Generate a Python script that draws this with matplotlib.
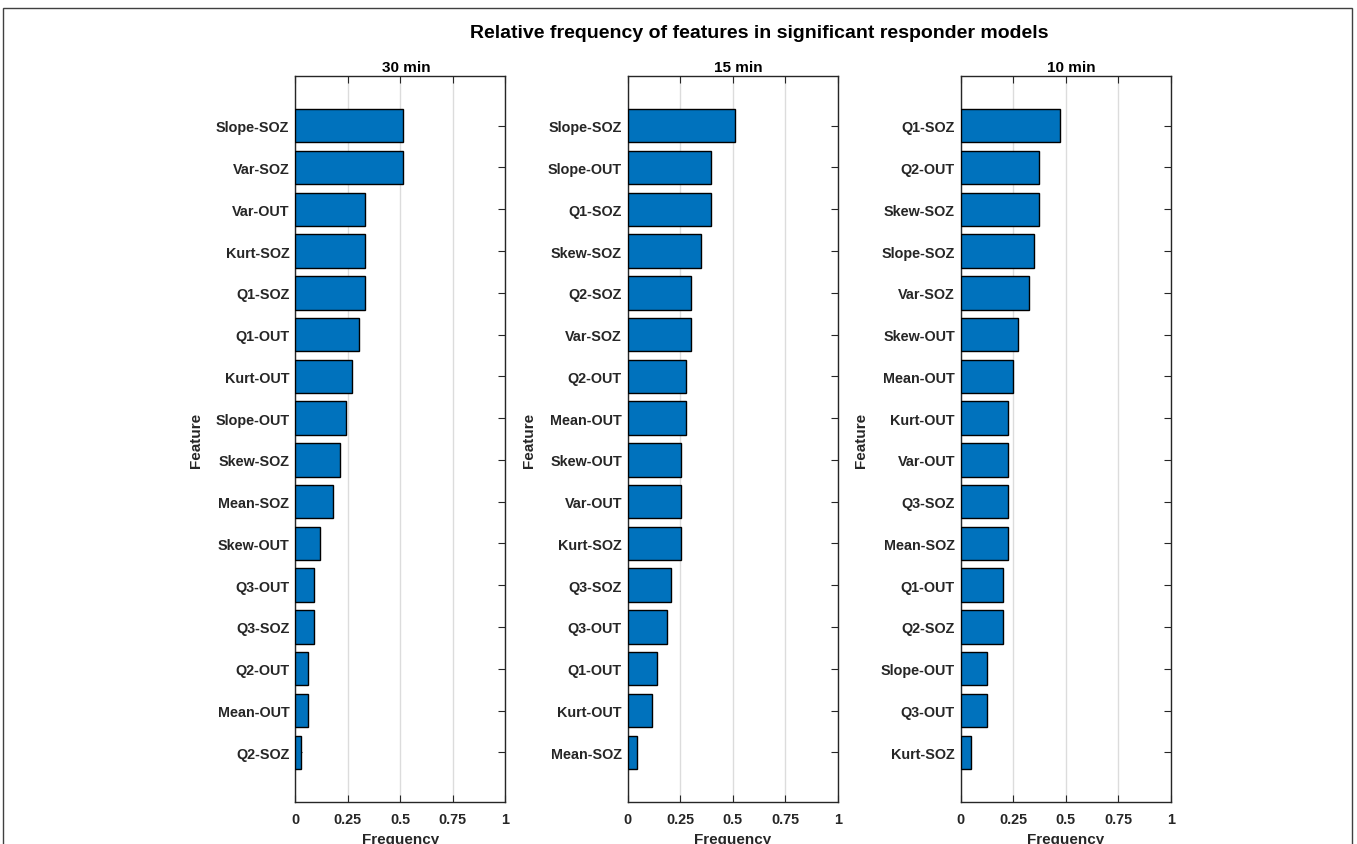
import matplotlib
matplotlib.use("Agg")
import matplotlib.pyplot as plt
from matplotlib.patches import Rectangle

plt.rcParams['font.family'] = ['Liberation Sans', 'DejaVu Sans']
plt.rcParams['font.weight'] = 'bold'

# Feature rankings and relative frequencies for each window length
titles = ["30 min", "15 min", "10 min"]

features_30 = ["Slope-SOZ", "Var-SOZ", "Var-OUT", "Kurt-SOZ", "Q1-SOZ", "Q1-OUT",
               "Kurt-OUT", "Slope-OUT", "Skew-SOZ", "Mean-SOZ", "Skew-OUT", "Q3-OUT",
               "Q3-SOZ", "Q2-OUT", "Mean-OUT", "Q2-SOZ"]
freq_30 = [0.515, 0.515, 0.333, 0.333, 0.333, 0.303, 0.273, 0.242,
           0.212, 0.182, 0.121, 0.091, 0.091, 0.061, 0.061, 0.030]

features_15 = ["Slope-SOZ", "Slope-OUT", "Q1-SOZ", "Skew-SOZ", "Q2-SOZ", "Var-SOZ",
               "Q2-OUT", "Mean-OUT", "Skew-OUT", "Var-OUT", "Kurt-SOZ", "Q3-SOZ",
               "Q3-OUT", "Q1-OUT", "Kurt-OUT", "Mean-SOZ"]
freq_15 = [0.512, 0.395, 0.395, 0.349, 0.302, 0.302, 0.279, 0.279,
           0.256, 0.256, 0.256, 0.209, 0.186, 0.140, 0.116, 0.047]

features_10 = ["Q1-SOZ", "Q2-OUT", "Skew-SOZ", "Slope-SOZ", "Var-SOZ", "Skew-OUT",
               "Mean-OUT", "Kurt-OUT", "Var-OUT", "Q3-SOZ", "Mean-SOZ", "Q1-OUT",
               "Q2-SOZ", "Slope-OUT", "Q3-OUT", "Kurt-SOZ"]
freq_10 = [0.475, 0.375, 0.375, 0.350, 0.325, 0.275, 0.250, 0.225,
           0.225, 0.225, 0.225, 0.200, 0.200, 0.125, 0.125, 0.050]

x_ticks = [0, 0.25, 0.5, 0.75, 1]
x_tick_labels = ["0", "0.25", "0.5", "0.75", "1"]

panels = [(features_30, freq_30), (features_15, freq_15), (features_10, freq_10)]

W, H = 1357, 845
fig = plt.figure(figsize=(W / 100, H / 100), dpi=100)
fig.patch.set_facecolor("white")

# thin frame around the whole figure
fig.add_artist(Rectangle((3 / W, -0.05), 1349 / W, 1.05 - 9 / H,
                         transform=fig.transFigure, fill=False,
                         edgecolor="#404040", linewidth=1.0))

axis_col = "#262626"
lefts = [295, 627.5, 960.5]
ax_w = 210.5
ax_top, ax_bot = 77, 803

for i, ((names, vals), title) in enumerate(zip(panels, titles)):
    ax = fig.add_axes([lefts[i] / W, 1 - ax_bot / H, ax_w / W, (ax_bot - ax_top) / H])
    pos = list(range(len(names)))
    ax.barh(pos, vals, height=0.8, color="#0072BD", edgecolor="black",
            linewidth=1.0, zorder=3)
    ax.set_xlim(0, 1)
    ax.set_ylim(len(names) - 1 + 1.19, -1.19)
    ax.set_yticks(pos)
    ax.set_yticklabels(names, fontsize=10.4, fontweight="bold", color=axis_col)
    ax.set_xticks(x_ticks)
    ax.set_xticklabels(x_tick_labels, fontsize=10.4, fontweight="bold", color=axis_col)
    ax.tick_params(axis="both", direction="in", length=5, width=0.8,
                   color=axis_col, top=True, right=True, pad=4)
    ax.tick_params(axis="x", pad=7)
    ax.grid(axis="x", color="#dcdcdc", linewidth=1.0, zorder=0)
    ax.set_axisbelow(True)
    for sp in ax.spines.values():
        sp.set_color(axis_col)
        sp.set_linewidth(1.0)
    ax.text(0.5 + 6 / ax_w, 1 + 9 / (ax_bot - ax_top), title, transform=ax.transAxes,
            ha="center", va="center", fontsize=11, fontweight="bold", color="black")
    ax.set_xlabel("Frequency", fontsize=11, fontweight="bold", color=axis_col)
    ax.set_ylabel("Feature", fontsize=11, fontweight="bold", color=axis_col)
    ax.yaxis.set_label_coords(-92 / ax_w, 0.5)
    ax.xaxis.set_label_coords(0.5, -30 / (ax_bot - ax_top))

fig.text(759 / W, 1 - 33 / H, "Relative frequency of features in significant responder models",
         ha="center", va="center", fontsize=14, fontweight="bold", color="black")

fig.savefig("out.png", dpi=100)
